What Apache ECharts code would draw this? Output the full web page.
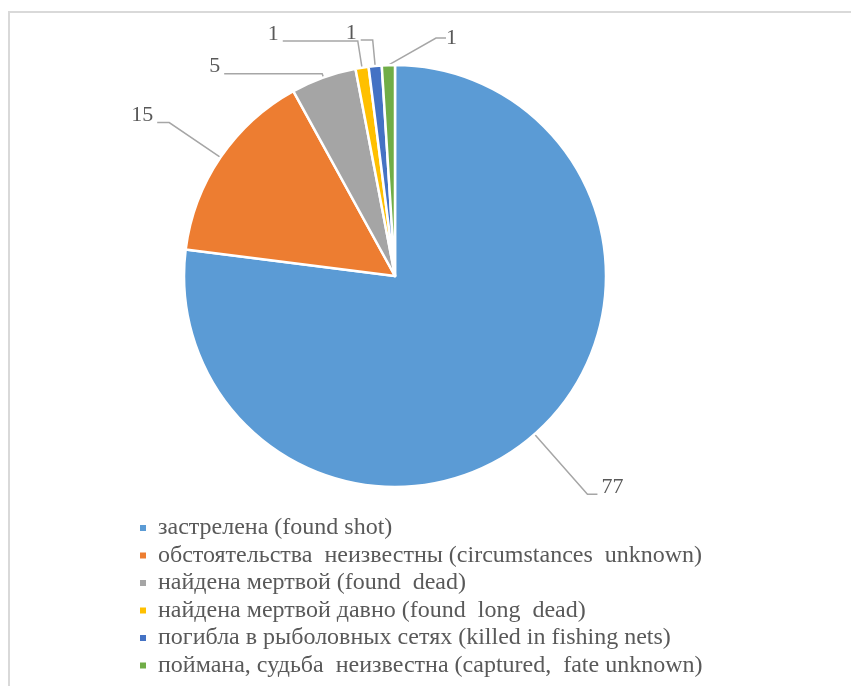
<!DOCTYPE html>
<html>
<head>
<meta charset="utf-8">
<script src="https://cdn.jsdelivr.net/npm/echarts@6/dist/echarts.min.js"></script>
<style>
html, body { margin: 0; padding: 0; background: #fff; }
#chart { width: 851px; height: 686px; }
</style>
</head>
<body>
<div id="chart"></div>
<script>
const categories = [
    'застрелена (found shot)',
    'обстоятельства  неизвестны (circumstances  unknown)',
    'найдена мертвой (found  dead)',
    'найдена мертвой давно (found  long  dead)',
    'погибла в рыболовных сетях (killed in fishing nets)',
    'поймана, судьба  неизвестна (captured,  fate unknown)'
]
const counts = [77, 15, 5, 1, 1, 1]
const colors = ['#5b9bd5', '#ed7d31', '#a5a5a5', '#ffc000', '#4472c4', '#70ad47']
// leader line lengths, one per slice (the original places each label by hand)
const lineLen = [80, 62, 4, 27, 26, 20]
const lineLen2 = [10, 12, 98, 75, 12, 10]

const chart = echarts.init(document.getElementById('chart'))
chart.setOption({
    animation: false,
    color: colors,
    textStyle: { fontFamily: '"Liberation Serif", "Times New Roman", serif' },
    graphic: [{
        type: 'rect',
        silent: true,
        shape: { x: 9, y: 12, width: 900, height: 700 },
        style: { fill: 'none', stroke: '#d9d9d9', lineWidth: 2 }
    }],
    legend: {
        orient: 'vertical',
        left: 133,
        top: 511,
        icon: 'rect',
        itemWidth: 8,
        itemHeight: 8,
        itemGap: 3.5,
        textStyle: {
            color: '#595959',
            fontSize: 24,
            lineHeight: 24,
            padding: [0, 0, 0, 6]
        },
        data: categories
    },
    series: [{
        type: 'pie',
        center: [395, 276],
        radius: 211,
        startAngle: 90,
        clockwise: true,
        avoidLabelOverlap: false,
        itemStyle: { borderColor: '#fff', borderWidth: 2.5 },
        label: {
            show: true,
            position: 'outside',
            formatter: '{v|{c}}',
            distanceToLabelLine: 4,
            rich: {
                // bottom padding lifts the number above the end of its line
                v: { color: '#595959', fontSize: 22, padding: [0, 0, 14, 0] }
            }
        },
        labelLine: {
            show: true,
            lineStyle: { color: '#a6a6a6', width: 1.5 }
        },
        labelLayout: function (p) {
            // last label sits to the right of its slice, as in the original
            if (p.dataIndex === 5) return { x: 446, y: 45, align: 'left' }
        },
        data: categories.map((name, i) => ({
            name: name,
            value: counts[i],
            labelLine: { length: lineLen[i], length2: lineLen2[i] }
        }))
    }]
})
</script>
</body>
</html>
